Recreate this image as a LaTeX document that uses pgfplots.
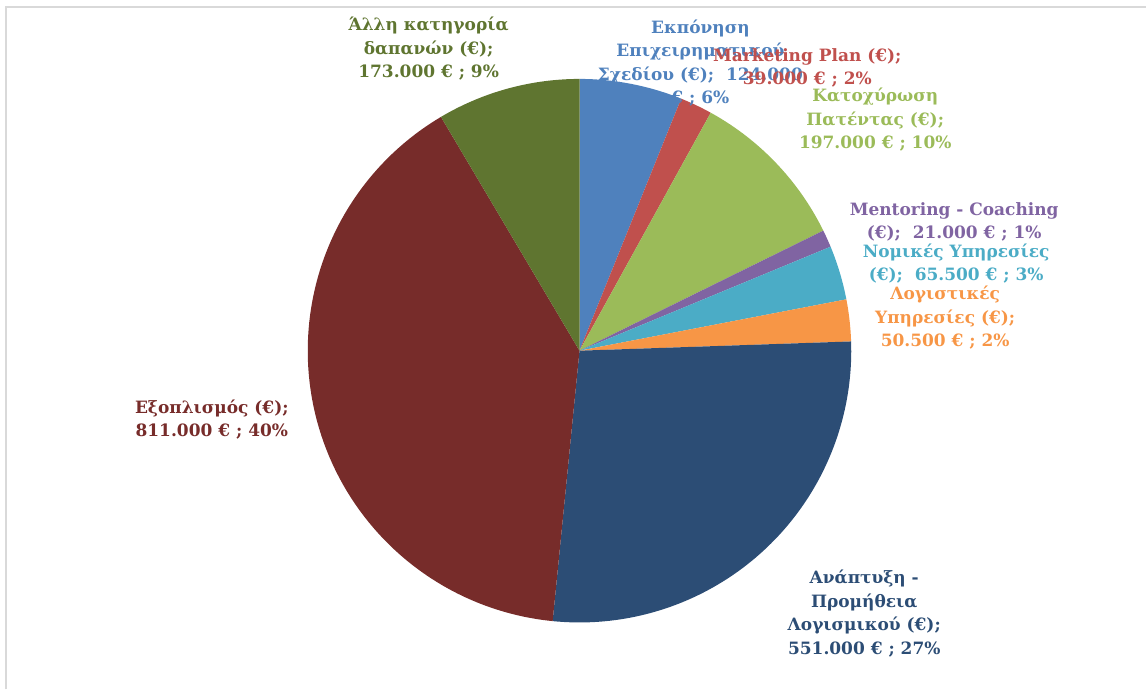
\documentclass[border=0pt]{standalone}
\usepackage{fontspec}
\setmainfont{DejaVu Serif}
\usepackage{pgfplots}
\usepackage{pgfplotstable}
\pgfplotsset{compat=1.18}

\definecolor{c0}{HTML}{4F81BD}
\definecolor{c1}{HTML}{C0504D}
\definecolor{c2}{HTML}{9BBB59}
\definecolor{c3}{HTML}{8064A2}
\definecolor{c4}{HTML}{4BACC6}
\definecolor{c5}{HTML}{F79646}
\definecolor{c6}{HTML}{2C4D75}
\definecolor{c7}{HTML}{772C2A}
\definecolor{c8}{HTML}{5F7530}
\definecolor{frame}{HTML}{D9D9D9}

% expenses in euro, in Excel's order (clockwise from 12 o'clock)
\pgfplotstableread{
id value
0 124000
1 39000
2 197000
3 21000
4 65500
5 50500
6 551000
7 811000
8 173000
}\piedata

\newcommand{\cx}{580}
\newcommand{\cy}{339}
\newcommand{\rad}{272}

\begin{document}
\begin{tikzpicture}[lbl/.style={font=\bfseries\fontsize{17}{23.5}\selectfont, align=center}]
\begin{axis}[
  width=1147pt, height=690pt, scale only axis,
  xmin=0, xmax=1147, ymin=0, ymax=690,
  hide axis, clip=false,
]
\path (axis cs:0,0) rectangle (axis cs:1147,690);
\draw[frame, line width=2pt] (axis cs:6,0) -- (axis cs:6,683) -- (axis cs:1147,683);

% total of all slices
\def\total{0}
\pgfplotsforeachungrouped \i in {0,...,8}{%
  \pgfplotstablegetelem{\i}{value}\of\piedata
  \xdef\total{\fpeval{\total+\pgfplotsretval}}%
}
% one sector per row
\def\startang{90}
\pgfplotsforeachungrouped \i in {0,...,8}{%
  \pgfplotstablegetelem{\i}{value}\of\piedata
  \xdef\endang{\fpeval{\startang-360*\pgfplotsretval/\total}}%
  \edef\cmd{\noexpand\addplot[fill=c\i, draw=none, domain=\endang:\startang, samples=90]
    ({\cx+\rad*cos(x)},{\cy+\rad*sin(x)}) -- (axis cs:\cx,\cy) -- cycle;}%
  \cmd
  \xdef\startang{\endang}%
}

\node[lbl, text=c0] at (axis cs:701,627) {Εκπόνηση\\Επιχειρηματικού\\Σχεδίου (€);~ 124.000\\€ ; 6\%};
\node[lbl, text=c1] at (axis cs:808,622) {Marketing Plan (€);\\39.000 € ; 2\%};
\node[lbl, text=c2] at (axis cs:876,570) {Κατοχύρωση\\Πατέντας (€);\\197.000 € ; 10\%};
\node[lbl, text=c3] at (axis cs:955,468) {Mentoring - Coaching\\(€);~ 21.000 € ; 1\%};
\node[lbl, text=c4] at (axis cs:957,426) {Νομικές Υπηρεσίες\\(€);~ 65.500 € ; 3\%};
\node[lbl, text=c5] at (axis cs:946,372) {Λογιστικές\\Υπηρεσίες (€);\\50.500 € ; 2\%};
\node[lbl, text=c6] at (axis cs:865,76) {Ανάπτυξη -\\Προμήθεια\\Λογισμικού (€);\\551.000 € ; 27\%};
\node[lbl, text=c7] at (axis cs:212,270) {Εξοπλισμός (€);\\811.000 € ; 40\%};
\node[lbl, text=c8] at (axis cs:429,641) {Άλλη κατηγορία\\δαπανών (€);\\173.000 € ; 9\%};
\end{axis}
\end{tikzpicture}
\end{document}
